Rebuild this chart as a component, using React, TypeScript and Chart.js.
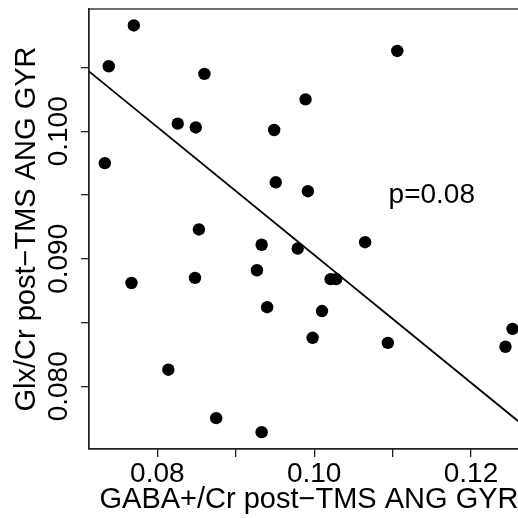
import React, { useEffect, useRef } from "react";
import { Chart, registerables } from "chart.js";

Chart.register(...registerables);

// GABA+/Cr (x) and Glx/Cr (y) per subject
const gabaValues = [0.0770, 0.0738, 0.0860, 0.1106, 0.0826, 0.0849, 0.0989, 0.0733, 0.0949, 0.0951, 0.0992, 0.0853, 0.0933, 0.0979, 0.1065, 0.0927, 0.0767, 0.0848, 0.1021, 0.1028, 0.0940, 0.1010, 0.0998, 0.1094, 0.1244, 0.1253, 0.0814, 0.0875, 0.0933];
const glxValues = [0.1083, 0.1051, 0.1045, 0.1063, 0.1006, 0.1003, 0.1025, 0.0975, 0.1001, 0.0960, 0.0953, 0.0923, 0.0911, 0.0908, 0.0913, 0.0891, 0.0881, 0.0885, 0.0884, 0.0884, 0.0862, 0.0859, 0.0838, 0.0834, 0.0831, 0.0845, 0.0813, 0.0775, 0.0764];

// linear fit y = intercept + slope * x
const fitIntercept = 0.14041;
const fitSlope = -0.5011;

const xRange = [0.07128, 0.1274];
const yRange = [0.07508, 0.10959];

const xTicks = [0.08, 0.09, 0.10, 0.11, 0.12];
const xTickLabels = ["0.08", "", "0.10", "", "0.12"];
const yTicks = [0.080, 0.085, 0.090, 0.095, 0.100, 0.105];
const yTickLabels = ["0.080", "", "0.090", "", "0.100", ""];

const xTitle = "GABA+/Cr post\u2212TMS ANG GYR";
const yTitle = "Glx/Cr post\u2212TMS ANG GYR";
const annotationText = "p=0.08";
const annotationPos = [0.115, 0.095];

const FONT = "'Liberation Sans', Arial, Helvetica, sans-serif";

export default function App() {
  const canvasRef = useRef<HTMLCanvasElement | null>(null);

  useEffect(() => {
    const canvas = canvasRef.current;
    if (!canvas) return;

    const points = gabaValues.map((x, i) => ({ x, y: glxValues[i] }));
    const linePts = xRange.map((x) => ({ x, y: fitIntercept + fitSlope * x }));

    const extras = {
      id: "extras",
      afterDraw(chart: any) {
        const { ctx, chartArea } = chart;
        const ys = chart.scales.y;
        const xs = chart.scales.x;
        ctx.save();
        // box
        ctx.strokeStyle = "#222";
        ctx.lineWidth = 1.3;
        ctx.strokeRect(chartArea.left, chartArea.top, chartArea.right - chartArea.left, chartArea.bottom - chartArea.top);
        // y tick labels (rotated, R style)
        ctx.fillStyle = "#000";
        ctx.font = `28px ${FONT}`;
        ctx.textAlign = "center";
        ctx.textBaseline = "middle";
        yTicks.forEach((v, i) => {
          const lbl = yTickLabels[i];
          if (!lbl) return;
          const py = ys.getPixelForValue(v);
          ctx.save();
          ctx.translate(59, py);
          ctx.rotate(-Math.PI / 2);
          ctx.fillText(lbl, 0, 0);
          ctx.restore();
        });
        // annotation
        ctx.fillText(annotationText, xs.getPixelForValue(annotationPos[0]), ys.getPixelForValue(annotationPos[1]));
        ctx.restore();
      },
    };

    const chart = new Chart(canvas, {
      type: "scatter",
      data: {
        datasets: [
          {
            data: points,
            backgroundColor: "#000",
            borderColor: "#000",
            pointRadius: 6.2,
            pointHoverRadius: 6.2,
            borderWidth: 0,
          },
          {
            type: "line",
            data: linePts,
            borderColor: "#000",
            borderWidth: 1.8,
            pointRadius: 0,
            showLine: true,
            fill: false,
          } as any,
        ],
      },
      options: {
        animation: false,
        responsive: false,
        devicePixelRatio: 1,
        layout: { autoPadding: false, padding: { left: 0, top: 9, right: 11, bottom: 0 } },
        plugins: { legend: { display: false }, tooltip: { enabled: false } },
        scales: {
          x: {
            type: "linear",
            min: xRange[0],
            max: xRange[1],
            afterBuildTicks: (s: any) => {
              s.ticks = xTicks.map((v) => ({ value: v }));
            },
            afterFit: (s: any) => {
              s.height = 69;
            },
            ticks: {
              autoSkip: false,
              maxRotation: 0,
              minRotation: 0,
              padding: 0,
              color: "#000",
              font: { family: FONT, size: 28 },
              callback: (_v: any, i: number) => xTickLabels[i],
            },
            grid: { drawOnChartArea: false, drawTicks: true, tickLength: 8, color: "#222", lineWidth: 1.3 },
            border: { display: true, color: "#222", width: 1.3 },
            title: {
              display: true,
              text: xTitle,
              color: "#000",
              font: { family: FONT, size: 29, lineHeight: 1 },
              padding: { top: 0, bottom: 3.5 },
            },
          },
          y: {
            type: "linear",
            min: yRange[0],
            max: yRange[1],
            afterBuildTicks: (s: any) => {
              s.ticks = yTicks.map((v) => ({ value: v }));
            },
            afterFit: (s: any) => {
              s.width = 89;
            },
            ticks: { display: false },
            grid: { drawOnChartArea: false, drawTicks: true, tickLength: 8, color: "#222", lineWidth: 1.3 },
            border: { display: true, color: "#222", width: 1.3 },
            title: {
              display: true,
              text: yTitle,
              color: "#000",
              font: { family: FONT, size: 29, lineHeight: 1 },
              padding: { top: 12, bottom: 0 },
            },
          },
        },
      },
      plugins: [extras],
    });

    return () => chart.destroy();
  }, []);

  return (
    <div style={{ position: "fixed", left: 0, top: 0, width: 518, height: 518, overflow: "hidden", background: "#fff" }}>
      <canvas ref={canvasRef} width={540} height={518} style={{ display: "block", width: 540, height: 518 }} />
    </div>
  );
}
